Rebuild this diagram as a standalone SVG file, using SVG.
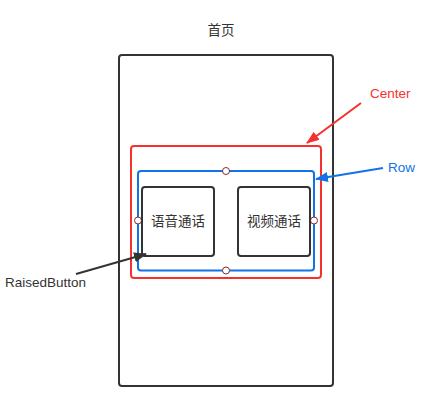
<svg xmlns="http://www.w3.org/2000/svg" width="432" height="409" viewBox="0 0 432 409">
<defs>
<style>
text{font-family:"Liberation Sans","Noto Sans CJK SC",sans-serif;font-size:13.5px}
.cn{font-family:"Noto Sans CJK SC",sans-serif;font-size:13.5px;fill:#333}
.box{fill:none;stroke:#333;stroke-width:2}
.handle{fill:#fff;stroke:#8b2b2b;stroke-width:1}
</style>
<marker id="ar" markerWidth="13" markerHeight="10" refX="12" refY="5" orient="auto" markerUnits="userSpaceOnUse"><path d="M0,0 L13,5 L0,10 z" fill="#f5312d"/></marker>
<marker id="ab" markerWidth="13" markerHeight="10" refX="12" refY="5" orient="auto" markerUnits="userSpaceOnUse"><path d="M0,0 L13,5 L0,10 z" fill="#1272e8"/></marker>
<marker id="ak" markerWidth="13" markerHeight="10" refX="12" refY="5" orient="auto" markerUnits="userSpaceOnUse"><path d="M0,0 L13,5 L0,10 z" fill="#333"/></marker>
</defs>
<rect width="432" height="409" fill="#fff"/>
<g id="page">
<text class="cn" x="221" y="35" text-anchor="middle">首页</text>
<rect class="box" x="119" y="55" width="214" height="331" rx="3"/>
</g>
<g id="center">
<rect x="131" y="146" width="190" height="132" rx="3" fill="none" stroke="#f5312d" stroke-width="2"/>
</g>
<g id="row">
<rect x="138" y="171" width="176" height="99.5" rx="3" fill="none" stroke="#1272e8" stroke-width="2"/>
<circle class="handle" cx="226" cy="171" r="3.5"/>
<circle class="handle" cx="226" cy="270.5" r="3.5"/>
<circle class="handle" cx="138" cy="220.5" r="3.5"/>
<circle class="handle" cx="314" cy="220.5" r="3.5"/>
</g>
<g id="btn1">
<rect class="box" x="142" y="187" width="72" height="69" rx="3"/>
<text class="cn" x="178" y="226" text-anchor="middle">语音通话</text>
</g>
<g id="btn2">
<rect class="box" x="238" y="187" width="72" height="69" rx="3"/>
<text class="cn" x="274" y="226" text-anchor="middle">视频通话</text>
</g>
<g id="labels">
<text x="370" y="98" fill="#f5312d">Center</text>
<text x="388" y="172" fill="#1272e8">Row</text>
<text x="5" y="287" fill="#333">RaisedButton</text>
</g>
<g id="connectors">
<line x1="361" y1="103" x2="307" y2="143" stroke="#f5312d" stroke-width="2" marker-end="url(#ar)"/>
<line x1="383" y1="168" x2="316" y2="179" stroke="#1272e8" stroke-width="2" marker-end="url(#ab)"/>
<line x1="76" y1="274" x2="146" y2="254" stroke="#333" stroke-width="2" marker-end="url(#ak)"/>
</g>
</svg>
